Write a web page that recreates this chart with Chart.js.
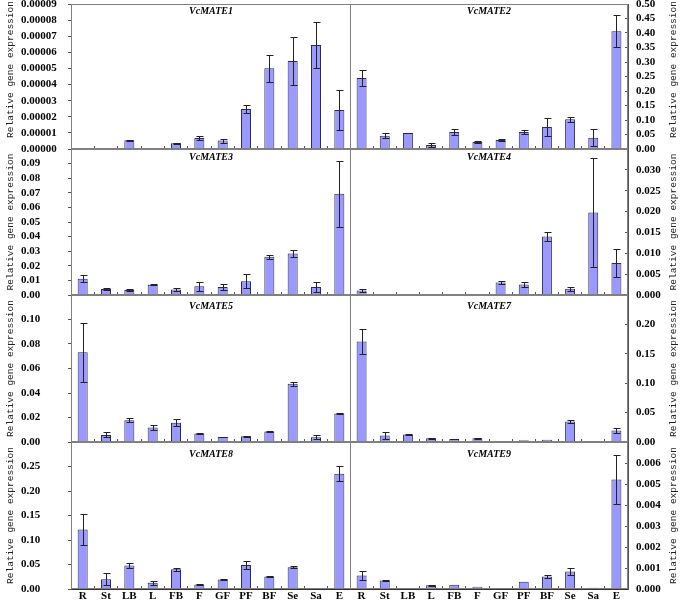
<!DOCTYPE html>
<html>
<head>
<meta charset="utf-8">
<script src="https://cdn.jsdelivr.net/npm/chart.js@4.4.0/dist/chart.umd.min.js"></script>
<style>
    html, body { margin: 0; padding: 0; background: #fff; }
    body { width: 681px; height: 608px; position: relative; overflow: hidden; }
    canvas { position: absolute; }
</style>
</head>
<body>
<script>
const categories = ['R', 'St', 'LB', 'L', 'FB', 'F', 'GF', 'PF', 'BF', 'Se', 'Sa', 'E'];

const vcmate1 = [0, 0, 0.0000054, 0, 0.0000035, 0.0000068, 0.0000052, 0.0000248, 0.0000501, 0.0000546, 0.0000646, 0.0000242];
const vcmate1Err = [0, 0, 0.0000002, 0, 0.0000001, 0.000001, 0.0000012, 0.0000027, 0.0000085, 0.0000151, 0.0000145, 0.0000124];

const vcmate2 = [0.245, 0.046, 0.055, 0.014, 0.059, 0.024, 0.031, 0.059, 0.076, 0.103, 0.039, 0.406];
const vcmate2Err = [0.028, 0.008, 0.001, 0.008, 0.01, 0.005, 0.002, 0.008, 0.031, 0.009, 0.03, 0.055];

const vcmate3 = [0.0112, 0.0041, 0.0034, 0.0071, 0.0037, 0.006, 0.0055, 0.0094, 0.0262, 0.0284, 0.0055, 0.0693];
const vcmate3Err = [0.0025, 0.001, 0.0005, 0.0003, 0.0009, 0.003, 0.0018, 0.0048, 0.0012, 0.0022, 0.0032, 0.0224];

const vcmate4 = [0.00106, 0.0001, 0.0001, 0, 0.0001, 0.00025, 0.003, 0.0025, 0.014, 0.0015, 0.0198, 0.0077];
const vcmate4Err = [0.0004, 0, 0, 0, 0, 0, 0.0004, 0.0005, 0.0011, 0.0005, 0.013, 0.0033];

const vcmate5 = [0.0732, 0.0058, 0.0177, 0.0119, 0.0157, 0.0069, 0.0041, 0.0047, 0.0086, 0.0475, 0.0039, 0.0232];
const vcmate5Err = [0.0242, 0.002, 0.0017, 0.0022, 0.0029, 0.0004, 0.0003, 0.0004, 0.0004, 0.0015, 0.0015, 0.0002];

const vcmate7 = [0.171, 0.011, 0.0128, 0.0064, 0.0052, 0.0064, 0.001, 0.003, 0.004, 0.0348, 0, 0.0197];
const vcmate7Err = [0.022, 0.0055, 0.001, 0.0005, 0.0005, 0.0005, 0, 0, 0, 0.0026, 0, 0.004];

const vcmate8 = [0.1216, 0.02, 0.048, 0.013, 0.0405, 0.009, 0.0192, 0.0488, 0.0254, 0.0446, 0.0007, 0.235];
const vcmate8Err = [0.032, 0.0124, 0.005, 0.004, 0.003, 0.0005, 0.001, 0.0086, 0.0005, 0.0024, 0, 0.0155];

const vcmate9 = [0.00064, 0.00041, 0.00005, 0.00018, 0.0002, 0.00011, 0.00005, 0.00035, 0.0006, 0.00083, 0.00006, 0.00522];
const vcmate9Err = [0.00023, 0.00004, 0, 0.00002, 0, 0, 0, 0, 0.00008, 0.00017, 0, 0.00116];

const genes = ['VcMATE1', 'VcMATE2', 'VcMATE3', 'VcMATE4', 'VcMATE5', 'VcMATE7', 'VcMATE8', 'VcMATE9'];
const seriesValues = [vcmate1, vcmate2, vcmate3, vcmate4, vcmate5, vcmate7, vcmate8, vcmate9];
const seriesErrors = [vcmate1Err, vcmate2Err, vcmate3Err, vcmate4Err, vcmate5Err, vcmate7Err, vcmate8Err, vcmate9Err];
const axisMax = [0.00009, 0.5, 0.1, 0.035, 0.12, 0.25, 0.3, 0.007];
const axisStep = [0.00001, 0.05, 0.01, 0.005, 0.02, 0.05, 0.05, 0.001];
const axisDecimals = [5, 2, 2, 3, 2, 2, 2, 3];
const yTitle = 'Relative gene expression';

// plot area top/bottom of each row, in page pixels
const rows = [[4, 149], [149, 295], [295, 442], [442, 589]];
const titleOffsets = [7.5, 8.5, 11, 12.5];
const PAD = 18;

const errorBars = {
    id: 'errorBars',
    afterDatasetsDraw(chart) {
        const { ctx } = chart;
        const yScale = chart.scales.y;
        const ds = chart.data.datasets[0];
        const meta = chart.getDatasetMeta(0);
        ctx.save();
        ctx.strokeStyle = '#222';
        ctx.lineWidth = 1;
        meta.data.forEach((bar, i) => {
            const v = ds.data[i];
            const e = ds.errors[i];
            if (!e) return;
            const x = Math.round(bar.x) + 0.5;
            const top = Math.round(yScale.getPixelForValue(v + e)) + 0.5;
            const bot = Math.round(yScale.getPixelForValue(Math.max(v - e, 0))) + 0.5;
            ctx.beginPath();
            ctx.moveTo(x, top);
            ctx.lineTo(x, bot);
            ctx.moveTo(x - 3, top);
            ctx.lineTo(x + 4, top);
            ctx.moveTo(x - 3, bot);
            ctx.lineTo(x + 4, bot);
            ctx.stroke();
        });
        ctx.restore();
    },
};

const panelFrame = {
    id: 'panelFrame',
    afterDraw(chart, args, opts) {
        const { ctx, chartArea: a } = chart;
        ctx.save();
        ctx.strokeStyle = '#808080';
        ctx.lineWidth = 1;
        const l = Math.floor(a.left) + 0.5;
        const r = Math.ceil(a.right) - 0.5;
        const t = Math.round(a.top) + 0.5;
        const b = Math.round(a.bottom) - 0.5;
        ctx.strokeRect(l, t, r - l, b - t);

        ctx.fillStyle = '#000';
        ctx.textAlign = 'center';
        ctx.textBaseline = 'middle';
        ctx.font = 'italic bold 10px "Liberation Serif"';
        ctx.fillText(opts.gene, (a.left + a.right) / 2, a.top + opts.titleOffset);

        ctx.fillStyle = '#222';
        ctx.font = '9.5px "Liberation Mono"';
        ctx.translate(opts.sideX, (a.top + a.bottom) / 2 + opts.sideShift);
        ctx.rotate(-Math.PI / 2);
        ctx.fillText(yTitle, 0, 0);
        ctx.restore();
    },
};

function makePanel(idx) {
    const col = idx % 2;
    const row = Math.floor(idx / 2);
    const [top, bottom] = rows[row];
    const isBottom = row === 3;
    const xh = isBottom ? 19 : PAD;
    const width = col === 0 ? 351 : 331;
    const height = bottom - top + PAD + xh;

    const canvas = document.createElement('canvas');
    canvas.width = width;
    canvas.height = height;
    canvas.style.left = (col === 0 ? 0 : 350) + 'px';
    canvas.style.top = (top - PAD) + 'px';
    canvas.style.width = width + 'px';
    canvas.style.height = height + 'px';
    document.body.appendChild(canvas);

    const tickFont = { family: 'Liberation Serif', size: 11, weight: 'bold', lineHeight: 1 };

    new Chart(canvas.getContext('2d'), {
        type: 'bar',
        data: {
            labels: categories,
            datasets: [{
                data: seriesValues[idx],
                errors: seriesErrors[idx],
                backgroundColor: '#9999ff',
                borderColor: '#2b2b55',
                borderWidth: 1,
                barPercentage: 0.43,
                categoryPercentage: 1,
            }],
        },
        options: {
            responsive: false,
            animation: false,
            layout: { padding: { left: col === 0 ? 21 : 0, right: 0, top: PAD, bottom: 0 } },
            plugins: {
                legend: { display: false },
                tooltip: { enabled: false },
                panelFrame: {
                    gene: genes[idx],
                    titleOffset: titleOffsets[row],
                    sideX: col === 0 ? 10.5 : 323,
                    sideShift: row === 0 ? -7 : 0,
                },
            },
            scales: {
                x: {
                    offset: true,
                    ticks: {
                        display: isBottom,
                        color: '#000',
                        padding: 5,
                        autoSkip: false,
                        maxRotation: 0,
                        font: tickFont,
                    },
                    grid: { offset: true, drawOnChartArea: false, drawTicks: true, tickLength: -3, color: '#555' },
                    border: { display: true, color: '#333' },
                    afterFit: (s) => { s.height = xh; },
                },
                y: {
                    position: col === 0 ? 'left' : 'right',
                    min: 0,
                    max: axisMax[idx],
                    ticks: {
                        stepSize: axisStep[idx],
                        autoSkip: false,
                        maxTicksLimit: 20,
                        crossAlign: col === 0 ? 'far' : 'near',
                        padding: col === 0 ? 4 : 11,
                        color: '#000',
                        font: tickFont,
                        callback: (v, i, ticks) => (row > 0 && i === ticks.length - 1) ? '' : Number(v).toFixed(axisDecimals[idx]),
                    },
                    grid: { drawOnChartArea: false, drawTicks: true, tickLength: col === 0 ? 3 : -3, color: '#555' },
                    border: { display: true, color: '#555' },
                    afterFit: (s) => { s.width = col === 0 ? 50 : 53; },
                },
            },
        },
        plugins: [errorBars, panelFrame],
    });
}

genes.forEach((g, i) => makePanel(i));
</script>
</body>
</html>
